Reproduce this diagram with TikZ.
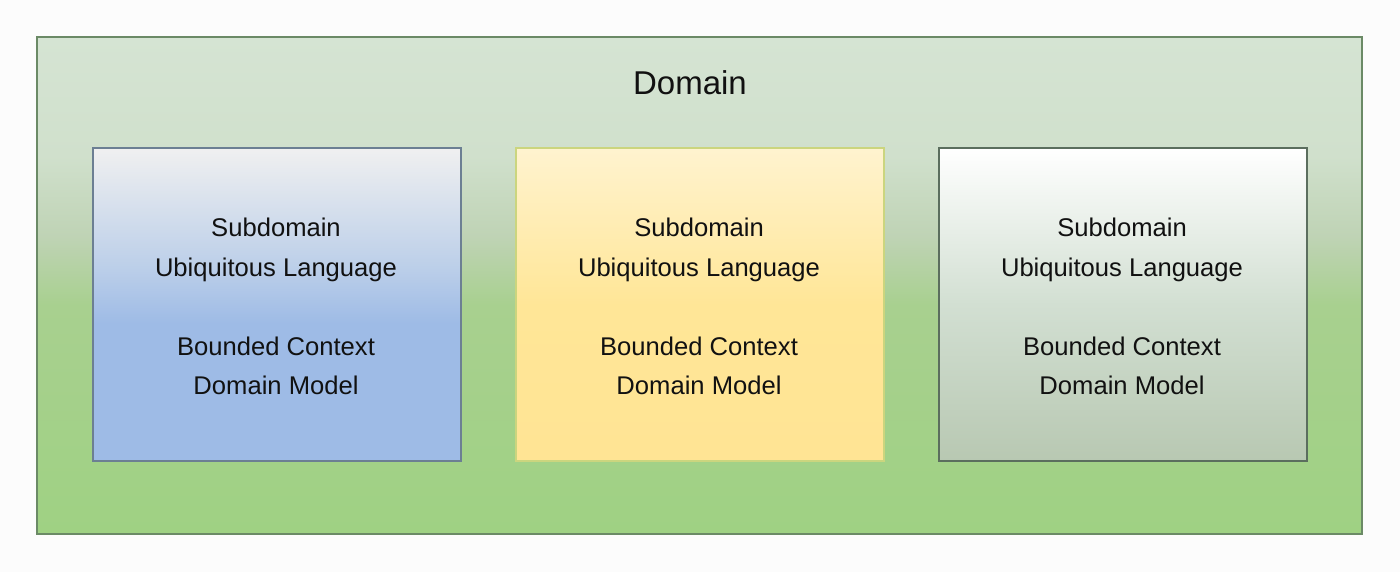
\documentclass[tikz,border=0pt]{standalone}
\usepackage{fontspec}
\setmainfont{Liberation Sans}
\definecolor{outerA}{HTML}{D5E4D3}
\definecolor{outerB}{HTML}{D0E0CC}
\definecolor{outerC}{HTML}{BFD3B5}
\definecolor{outerD}{HTML}{A8D08F}
\definecolor{outerE}{HTML}{9FD183}
\definecolor{blueA}{HTML}{F0F0F0}
\definecolor{blueB}{HTML}{BCCFE9}
\definecolor{blueC}{HTML}{9EBBE6}
\definecolor{yelA}{HTML}{FFF3CF}
\definecolor{yelB}{HTML}{FFE697}
\definecolor{yelC}{HTML}{FFE494}
\definecolor{grnA}{HTML}{FFFFFF}
\definecolor{grnB}{HTML}{D2DFD2}
\definecolor{grnC}{HTML}{B8C8B2}
\definecolor{outerStroke}{HTML}{6B8A66}
\definecolor{blueStroke}{HTML}{6C7F93}
\definecolor{yelStroke}{HTML}{CBD57E}
\definecolor{grnStroke}{HTML}{5B6E5E}
\definecolor{txt}{HTML}{111111}
\pgfdeclareverticalshading{outershade}{100bp}{color(0bp)=(outerE); color(25bp)=(outerE); color(48bp)=(outerD); color(55bp)=(outerC); color(63bp)=(outerB); color(75bp)=(outerA); color(100bp)=(outerA)}
\pgfdeclareverticalshading{blueshade}{100bp}{color(0bp)=(blueC); color(25bp)=(blueC); color(47bp)=(blueC); color(56bp)=(blueB); color(75bp)=(blueA); color(100bp)=(blueA)}
\pgfdeclareverticalshading{yelshade}{100bp}{color(0bp)=(yelC); color(25bp)=(yelC); color(50bp)=(yelB); color(75bp)=(yelA); color(100bp)=(yelA)}
\pgfdeclareverticalshading{grnshade}{100bp}{color(0bp)=(grnC); color(25bp)=(grnC); color(50bp)=(grnB); color(75bp)=(grnA); color(100bp)=(grnA)}
\tikzset{
  subbox/.style={draw, line width=1.1pt, minimum width=368pt, minimum height=313pt, inner sep=0pt},
  subtext/.style={align=center, text=txt, inner sep=0pt, font=\fontsize{25.6pt}{39.5pt}\selectfont},
}
\begin{document}
\begin{tikzpicture}[x=1pt,y=-1pt]
\useasboundingbox (0,0) rectangle (1400,572);
\fill[white!98!gray] (0,0) rectangle (1400,572);
\node[draw=outerStroke, line width=1.4pt, shading=outershade, minimum width=1325pt, minimum height=497pt, inner sep=0pt] (domain) at (699.5,285.5) {};
\node[text=txt, font=\fontsize{33pt}{36pt}\selectfont] (title) at (690,83) {Domain};
\node[subbox, draw=blueStroke, shading=blueshade] (left) at (277,304.5) {};
\node[subbox, draw=yelStroke, shading=yelshade] (mid) at (700,304.5) {};
\node[subbox, draw=grnStroke, shading=grnshade] (right) at (1123,304.5) {};
\node[subtext] (lefttext) at (276,306.5) {Subdomain\\Ubiquitous Language\\[39.5pt]Bounded Context\\Domain Model};
\node[subtext] (midtext) at (699,306.5) {Subdomain\\Ubiquitous Language\\[39.5pt]Bounded Context\\Domain Model};
\node[subtext] (righttext) at (1122,306.5) {Subdomain\\Ubiquitous Language\\[39.5pt]Bounded Context\\Domain Model};
\end{tikzpicture}
\end{document}
